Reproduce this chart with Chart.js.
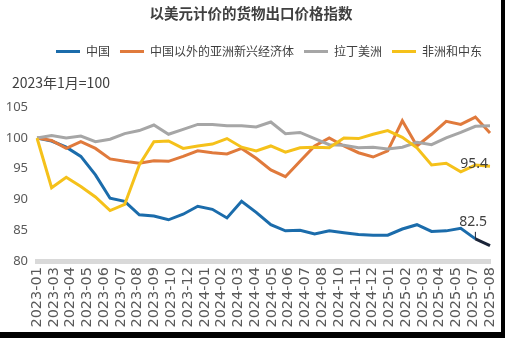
<!DOCTYPE html>
<html>
<head>
<meta charset="utf-8">
<script src="https://cdn.jsdelivr.net/npm/chart.js@4"></script>
<style>
  html, body { margin: 0; padding: 0; background: #000; }
  #box { width: 501px; height: 332px; background: #fff; position: relative; }
</style>
</head>
<body>
<div id="box"><canvas id="grafico"></canvas></div>
<script>
// mesi (un punto per mese)
const mesi = [
  "2023-01", "2023-02", "2023-03", "2023-04", "2023-05", "2023-06", "2023-07", "2023-08",
  "2023-09", "2023-10", "2023-11", "2023-12", "2024-01", "2024-02", "2024-03", "2024-04",
  "2024-05", "2024-06", "2024-07", "2024-08", "2024-09", "2024-10", "2024-11", "2024-12",
  "2025-01", "2025-02", "2025-03", "2025-04", "2025-05", "2025-06", "2025-07", "2025-08"
];

// etichette mostrate sull'asse
const etichetteAsse = [
  "2023-01", "2023-03", "2023-04", "2023-05", "2023-06", "2023-07", "2023-08", "2023-09",
  "2023-10", "2023-12", "2024-01", "2024-02", "2024-03", "2024-04", "2024-05", "2024-06",
  "2024-07", "2024-08", "2024-10", "2024-11", "2024-12", "2025-01", "2025-02", "2025-03",
  "2025-04", "2025-05", "2025-07", "2025-08"
];

const tickY = [80, 85, 90, 95, 100, 105];

const cina = [100, 99.5, 98.5, 97.0, 94.0, 90.2, 89.7, 87.5, 87.3, 86.7, 87.6, 88.9, 88.4, 87.0, 89.7, 87.9,
  85.9, 84.9, 85.0, 84.4, 84.9, 84.6, 84.3, 84.2, 84.2, 85.2, 85.9, 84.8, 84.9, 85.3, 83.6, 82.5];
const asia = [100, 99.6, 98.3, 99.4, 98.3, 96.6, 96.2, 95.9, 96.3, 96.2, 97.0, 97.9, 97.6, 97.4, 98.3, 96.7,
  94.8, 93.7, 96.2, 98.7, 100.0, 98.7, 97.6, 96.9, 97.9, 102.8, 98.7, 100.6, 102.7, 102.2, 103.4, 100.8];
const latam = [100, 100.4, 100.0, 100.3, 99.4, 99.8, 100.7, 101.2, 102.1, 100.6, 101.4, 102.2, 102.2, 102.0, 102.0, 101.8,
  102.6, 100.7, 100.9, 99.9, 98.9, 98.8, 98.4, 98.5, 98.2, 98.5, 99.3, 98.9, 100.0, 100.9, 101.9, 102.0];
const africa = [100, 91.9, 93.6, 92.1, 90.4, 88.2, 89.2, 95.6, 99.4, 99.5, 98.3, 98.7, 99.0, 99.9, 98.5, 97.9,
  98.7, 97.7, 98.4, 98.5, 98.4, 100.0, 99.9, 100.6, 101.2, 100.1, 98.4, 95.6, 95.9, 94.5, 95.6, 95.4];

const colori = ["#1b6cab", "#e07a3c", "#a6a6a6", "#f5c11a"];
const nomi = ["中国", "中国以外的亚洲新兴经济体", "拉丁美洲", "非洲和中东"];
const serie = [cina, asia, latam, africa];

// sposta titolo, sottotitolo e legenda
const spostaBlocchi = {
  id: "spostaBlocchi",
  afterLayout(chart) {
    chart.boxes.forEach((b) => {
      if (b.position === "top") b.left += 12;
    });
    if (chart.legend) {
      chart.legend.left += 24;
      chart.legend.right += 12;
    }
  }
};

// etichette a fine linea
const etichetteFinali = {
  id: "etichetteFinali",
  afterDatasetsDraw(chart) {
    const ctx = chart.ctx;
    const sx = chart.scales.x;
    const sy = chart.scales.y;
    const ultimo = mesi.length - 1;
    ctx.save();
    ctx.font = '14px "Noto Sans"';
    ctx.fillStyle = "#404040";
    ctx.textAlign = "right";
    ctx.textBaseline = "middle";
    ctx.fillText(africa[ultimo].toFixed(1), sx.getPixelForValue(ultimo) - 2, sy.getPixelForValue(africa[ultimo]) - 2);
    ctx.fillText(cina[ultimo].toFixed(1), sx.getPixelForValue(ultimo) - 3, sy.getPixelForValue(cina[ultimo]) - 24);
    // piccola linea guida
    const xg = sx.getPixelForValue(ultimo - 1);
    const yg = sy.getPixelForValue(cina[ultimo - 1]);
    ctx.strokeStyle = "#1a2438";
    ctx.lineWidth = 1;
    ctx.beginPath();
    ctx.moveTo(xg, yg - 7);
    ctx.lineTo(xg, yg);
    ctx.stroke();
    ctx.restore();
  }
};

const datasets = serie.map((valori, i) => ({
  label: nomi[i],
  data: valori,
  xAxisID: "x",
  borderColor: colori[i],
  backgroundColor: colori[i],
  borderWidth: 3,
  pointRadius: 0,
  tension: 0,
  order: 4 - i,
  segment: i === 0 ? {
    borderColor: (c) => (c.p1DataIndex === mesi.length - 1 ? "#1a2438" : undefined)
  } : undefined
}));

new Chart(document.getElementById("grafico").getContext("2d"), {
  type: "line",
  data: { labels: mesi, datasets: datasets },
  plugins: [spostaBlocchi, etichetteFinali],
  options: {
    responsive: true,
    maintainAspectRatio: false,
    animation: false,
    devicePixelRatio: 1,
    layout: { padding: { left: 0, right: 11, top: 0, bottom: 0 } },
    plugins: {
      title: {
        display: true,
        text: "以美元计价的货物出口价格指数",
        color: "#404040",
        font: { family: '"Noto Sans CJK SC"', size: 14.5, weight: "bold" },
        padding: { top: 5, bottom: 13 }
      },
      subtitle: {
        display: true,
        text: "2023年1月=100",
        align: "start",
        weight: 500,
        color: "#404040",
        font: { family: '"Noto Sans CJK SC"', size: 14 },
        padding: { top: 7, bottom: 16 }
      },
      legend: {
        position: "top",
        labels: {
          boxWidth: 24,
          boxHeight: 3,
          padding: 10,
          color: "#404040",
          font: { family: '"Noto Sans CJK SC"', size: 12 },
          sort: (a, b) => a.datasetIndex - b.datasetIndex,
          generateLabels: (chart) =>
            Chart.defaults.plugins.legend.labels.generateLabels(chart).map((l) => ({ ...l, lineWidth: 0 }))
        }
      },
      tooltip: { enabled: false }
    },
    scales: {
      x: {
        type: "category",
        display: false,
        offset: false
      },
      x2: {
        type: "category",
        position: "bottom",
        labels: etichetteAsse,
        offset: false,
        grid: { display: false, drawTicks: false },
        border: { display: true, color: "#d9d9d9", width: 5 },
        ticks: {
          autoSkip: false,
          minRotation: 90,
          maxRotation: 90,
          padding: 6,
          color: "#595959",
          font: { family: '"DejaVu Sans"', size: 14.5 }
        },
        afterFit: (s) => {
          s.height = 71;
          s.paddingLeft = 0;
          s.paddingRight = 0;
        }
      },
      y: {
        min: 80,
        max: 105,
        grid: { display: false, drawTicks: false },
        border: { display: false },
        afterBuildTicks: (s) => { s.ticks = tickY.map((v) => ({ value: v })); },
        ticks: {
          autoSkip: false,
          padding: 9,
          color: "#595959",
          font: { family: '"Noto Sans"', size: 13 }
        },
        afterFit: (s) => {
          s.width = 37;
          s.paddingTop = 0;
          s.paddingBottom = 0;
        }
      }
    }
  }
});
</script>
</body>
</html>
